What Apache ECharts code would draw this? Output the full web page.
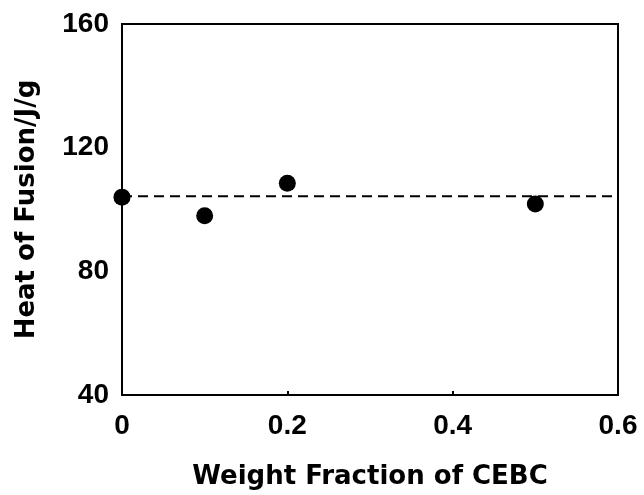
<!DOCTYPE html>
<html>
<head>
<meta charset="utf-8">
<script src="https://cdn.jsdelivr.net/npm/echarts@6/dist/echarts.min.js"></script>
<style>
html,body{margin:0;padding:0;background:#fff;}
#chart{width:644px;height:495px;}
</style>
</head>
<body>
<div id="chart"></div>
<script>
var weightFraction = [0, 0.1, 0.2, 0.5];
var heatOfFusion = [104, 98, 108.5, 101.8];
var meanLineX = [0, 0.6];
var meanLineY = [104.3, 104.3];
var xTicks = [0, 0.2, 0.4, 0.6];
var yTicks = [40, 80, 120, 160];

var chart = echarts.init(document.getElementById('chart'));
var font = 'Liberation Sans, Arial, sans-serif';
var titleFont = 'DejaVu Sans, sans-serif';
chart.setOption({
  animation: false,
  backgroundColor: '#fff',
  grid: {left: 122, right: 26, top: 24, bottom: 93, show: true, borderColor: '#000', borderWidth: 2, backgroundColor: 'transparent'},
  xAxis: {
    type: 'value', min: xTicks[0], max: xTicks[xTicks.length-1], interval: 0.2,
    name: 'Weight Fraction of CEBC', nameLocation: 'middle', nameGap: 69,
    nameTextStyle: {fontFamily: titleFont, fontWeight: 'bold', fontSize: 26, color: '#000'},
    axisLine: {show: true, lineStyle: {color: '#000', width: 2}},
    axisTick: {show: true, inside: true, length: 4, lineStyle: {color: '#000', width: 2}},
    splitLine: {show: false},
    axisLabel: {fontFamily: font, fontWeight: 'bold', fontSize: 28, color: '#000', margin: 17,
      formatter: function(v){ return String(Math.round(v*10)/10); }}
  },
  yAxis: {
    type: 'value', min: yTicks[0], max: yTicks[yTicks.length-1], interval: 40,
    name: 'Heat of Fusion/J/g', nameLocation: 'middle', nameGap: 82,
    nameTextStyle: {fontFamily: titleFont, fontWeight: 'bold', fontSize: 26, color: '#000'},
    axisLine: {show: true, lineStyle: {color: '#000', width: 2}},
    axisTick: {show: false},
    splitLine: {show: false},
    axisLabel: {fontFamily: font, fontWeight: 'bold', fontSize: 28, color: '#000', margin: 13}
  },
  series: [
    {
      type: 'line',
      data: meanLineX.map(function(x, i){ return [x, meanLineY[i]]; }),
      showSymbol: false, symbol: 'none',
      lineStyle: {color: '#000', width: 2, type: [10, 6]},
      z: 1
    },
    {
      type: 'scatter',
      data: weightFraction.map(function(x, i){ return [x, heatOfFusion[i]]; }),
      symbol: 'circle', symbolSize: 17,
      itemStyle: {color: '#000', opacity: 1},
      z: 3
    }
  ]
});
</script>
</body>
</html>
